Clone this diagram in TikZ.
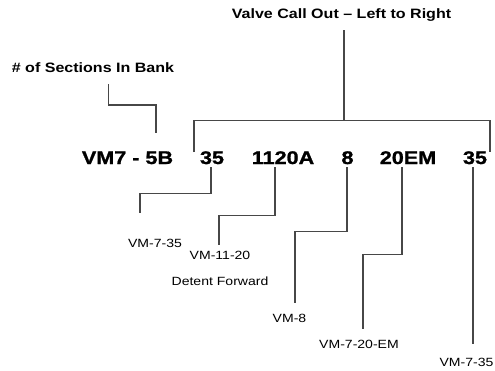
\documentclass[tikz,border=0pt]{standalone}
\usepackage{fontspec}
\newfontfamily\bigfont[FakeStretch=1.18,FakeBold=1.2]{Liberation Sans Bold}
\newfontfamily\titlefont[FakeStretch=1.18,Ligatures=TeX]{Liberation Sans Bold}
\newfontfamily\lblfont[FakeStretch=1.18]{Liberation Sans}
\begin{document}
\begin{tikzpicture}[x=1pt,y=-1pt,
  line/.style={draw=black!72,line width=1.1pt},
  bigtxt/.style={font=\bigfont\fontsize{18.3}{20}\selectfont,anchor=base,inner sep=4pt,outer sep=0pt},
  headtxt/.style={font=\titlefont\fontsize{13.6}{16}\selectfont,inner sep=2pt,outer sep=0pt},
  lbltxt/.style={font=\lblfont\fontsize{11.9}{14}\selectfont,inner sep=1pt,outer sep=0pt}]
\useasboundingbox (0,0) rectangle (495,370);
% headings
\node[headtxt] (title) at (341.5,15) {Valve Call Out – Left to Right};
\node[headtxt] (sec) at (93,68) {\# of Sections In Bank};
% main code
\node[bigtxt] (vm) at (127.5,164) {VM7 - 5B};
\node[bigtxt] (p1) at (212,164) {35};
\node[bigtxt] (p2) at (283,164) {1120A};
\node[bigtxt] (p3) at (347.5,164) {8};
\node[bigtxt] (p4) at (408,164) {20EM};
\node[bigtxt] (p5) at (475,164) {35};
% labels
\node[lbltxt] (l1) at (155,243) {VM-7-35};
\node[lbltxt] (l2) at (220,255) {VM-11-20};
\node[lbltxt] (l2b) at (220,281) {Detent Forward};
\node[lbltxt] (l3) at (289.5,318) {VM-8};
\node[lbltxt] (l4) at (359,344) {VM-7-20-EM};
\node[lbltxt] (l5) at (466.5,362) {VM-7-35};
% coordinates
\coordinate (btop) at (344,120.7);
\coordinate (bl) at (194,152);
\coordinate (br) at (490,152);
\coordinate (secA) at (108.5,84);
\coordinate (secB) at (156,133);
\coordinate (e1) at (140,213);
\coordinate (e2) at (219,245);
\coordinate (e3) at (295,303);
\coordinate (e4) at (363,329);
\coordinate (e5) at (473,344);
% connectors
\draw[line] (title.south -| btop) ++(0,7) -- (btop);
\draw[line] (bl) |- (btop) -| (br);
\draw[line] (secA) -- ++(0,21) -| (secB);
\draw[line] ([xshift=-1pt,yshift=1pt]p1.south) |- ++(-20,26) -| (e1);
\draw[line] ([xshift=-8pt,yshift=1pt]p2.south) -- ++(0,48) -| (e2);
\draw[line] ([xshift=-0.5pt,yshift=1pt]p3.south) -- ++(0,64) -| (e3);
\draw[line] ([xshift=-6pt,yshift=1pt]p4.south) -- ++(0,87) -| (e4);
\draw[line] ([xshift=-2pt,yshift=1pt]p5.south) -- (e5);
\end{tikzpicture}
\end{document}
